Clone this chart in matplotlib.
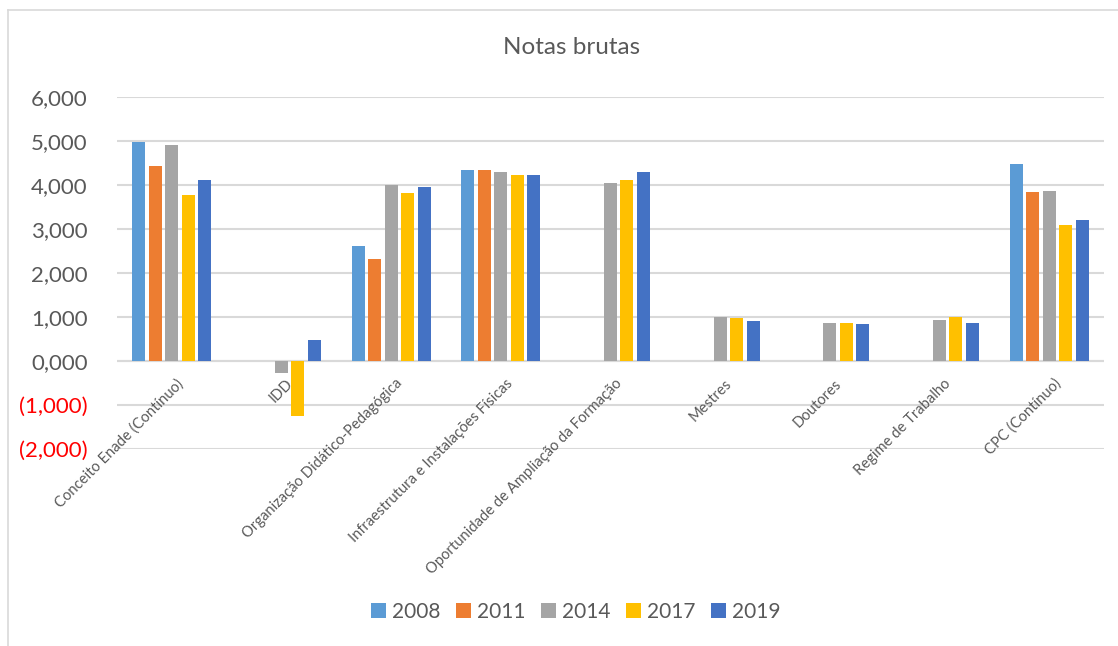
import numpy as np
import matplotlib.pyplot as plt
from matplotlib.lines import Line2D
from matplotlib.patches import Patch

# ── data ──────────────────────────────────────
categories = [
    "Conceito Enade (Contínuo)",
    "IDD",
    "Organização Didático-Pedagógica",
    "Infraestrutura e Instalações Físicas",
    "Oportunidade de Ampliação da Formação",
    "Mestres",
    "Doutores",
    "Regime de Trabalho",
    "CPC (Contínuo)",
]
years = ["2008", "2011", "2014", "2017", "2019"]
nan = np.nan
v2008 = [4.98, nan, 2.61, 4.34, nan, nan, nan, nan, 4.47]
v2011 = [4.43, nan, 2.32, 4.34, nan, nan, nan, nan, 3.83]
v2014 = [4.91, -0.28, 3.99, 4.30, 4.04, 1.00, 0.875, 0.94, 3.86]
v2017 = [3.77, -1.25, 3.81, 4.23, 4.11, 0.98, 0.875, 1.00, 3.10]
v2019 = [4.11, 0.47, 3.95, 4.23, 4.29, 0.92, 0.85, 0.86, 3.21]
series = [v2008, v2011, v2014, v2017, v2019]
colors = ["#5B9BD5", "#ED7D31", "#A5A5A5", "#FFC000", "#4472C4"]
yticks = list(range(-2, 7))

FONT = "Lato"
TXT = "#595959"

# ── figure ────────────────────────────────────
fig = plt.figure(figsize=(11.18, 6.46), dpi=100)
# chart frame: only the left and top edges are visible in the original
W, H = 1118, 646
fig.add_artist(Line2D([8 / W, 8 / W], [0, 1 - 10 / H], transform=fig.transFigure,
                      color="#D9D9D9", lw=1.2))
fig.add_artist(Line2D([8 / W, 1], [1 - 10 / H, 1 - 10 / H], transform=fig.transFigure,
                      color="#D9D9D9", lw=1.2))

ax = fig.add_axes([117 / W, 1 - 449 / H, (1104 - 117) / W, (449 - 97) / H])

x = np.arange(len(categories))
step = 0.150
width = 0.1185
for i, (vals, c) in enumerate(zip(series, colors)):
    ax.bar(x + (i - 2) * step, vals, width=width, color=c, zorder=3)

ax.set_xlim(-0.5, len(categories) - 0.5)
ax.set_ylim(-2, 6)
ax.set_yticks(yticks)
ax.yaxis.grid(True, color="#D9D9D9", lw=1.5, zorder=0)
for s in ax.spines.values():
    s.set_visible(False)
ax.axhline(0, color="#D9D9D9", lw=1.5, zorder=2)
ax.tick_params(axis="both", length=0)
ax.set_xticks([])


def ylab(v):
    # Excel number format: comma decimal, negatives in red parentheses
    s = "{:.3f}".format(abs(v)).replace(".", ",")
    return "({})".format(s) if v < 0 else s


ax.set_yticklabels([ylab(v) for v in yticks], fontsize=16, family=FONT)
for lab, v in zip(ax.get_yticklabels(), yticks):
    lab.set_color("#FF0000" if v < 0 else TXT)
ax.tick_params(axis="y", pad=21)

# category labels hang from the zero line
for xi, name in zip(x, categories):
    ax.text(xi + 0.04, -0.35, name, rotation=45, ha="right", va="top",
            rotation_mode="anchor", fontsize=10.6, color=TXT, family=FONT)

fig.text(0.511, 1 - 47 / H, "Notas brutas", ha="center", va="center",
         fontsize=17.5, color=TXT, family=FONT)

handles = [Patch(facecolor=c, label=y) for y, c in zip(years, colors)]
fig.legend(handles=handles, loc="center", bbox_to_anchor=(576 / W, 1 - 612 / H),
           ncol=5, frameon=False, prop={"family": FONT, "size": 15},
           handlelength=0.7, handleheight=0.7, handletextpad=0.3, columnspacing=0.75,
           labelcolor=TXT)

fig.savefig("out.png", dpi=100)
